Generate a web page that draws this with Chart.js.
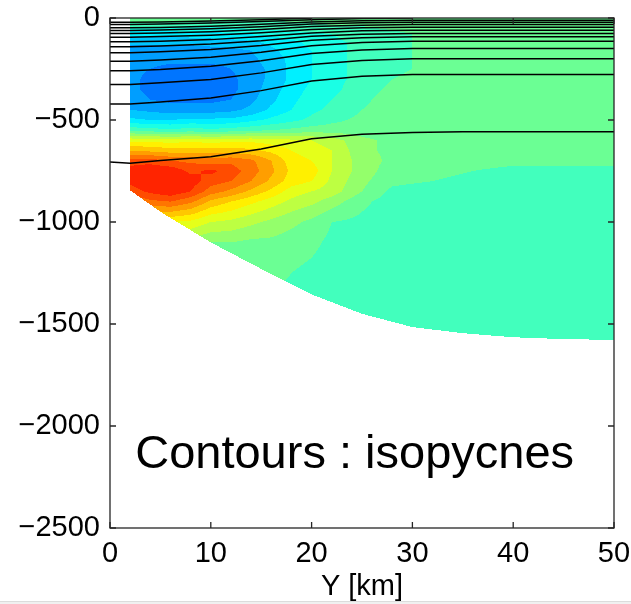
<!DOCTYPE html>
<html>
<head>
<meta charset="utf-8">
<script src="https://cdn.jsdelivr.net/npm/chart.js@4.4.1/dist/chart.umd.min.js"></script>
<style>
  html, body { margin: 0; padding: 0; background: #fff; }
  #wrap { position: relative; width: 631px; height: 604px; }
  #edge { position: absolute; left: 0; top: 601px; width: 631px; height: 3px; background: #f0f0f0; border-top: 1px solid #dcdcdc; box-sizing: border-box; }
</style>
</head>
<body>
<div id="wrap">
  <canvas id="section" width="631" height="604"></canvas>
  <div id="edge"></div>
</div>
<script>
// === Axes ===
const xTicks = [0, 10, 20, 30, 40, 50];
const yTicks = [0, -500, -1000, -1500, -2000, -2500];

// === Gridded field (jet colormap units, 0..1) ===
const xCols = [2, 4, 6, 8, 10, 12, 14, 16, 18, 20, 22, 25, 28, 32, 40, 50];
const depthRows = [0, 40, 80, 120, 160, 200, 250, 300, 350, 400, 450, 500, 550,
  600, 650, 700, 750, 800, 850, 900, 1000, 1100, 1250, 1400, 1600];
const fieldGrid = [
  [0.50,0.50,0.49,0.48,0.48,0.48,0.47,0.47,0.47,0.47,0.47,0.47,0.47,0.48,0.48,0.48], // 0
  [0.43,0.43,0.43,0.43,0.43,0.43,0.44,0.44,0.45,0.45,0.46,0.46,0.47,0.48,0.48,0.48], // 40
  [0.35,0.35,0.35,0.36,0.36,0.37,0.38,0.39,0.40,0.41,0.42,0.44,0.45,0.47,0.48,0.48], // 80
  [0.31,0.31,0.31,0.31,0.32,0.32,0.33,0.35,0.37,0.39,0.41,0.43,0.45,0.47,0.48,0.48], // 120
  [0.28,0.28,0.28,0.28,0.28,0.29,0.30,0.33,0.36,0.38,0.41,0.43,0.45,0.47,0.48,0.48], // 160
  [0.27,0.27,0.27,0.27,0.27,0.27,0.29,0.32,0.35,0.38,0.41,0.43,0.45,0.47,0.48,0.48], // 200
  [0.27,0.26,0.25,0.25,0.25,0.26,0.28,0.31,0.35,0.38,0.41,0.43,0.45,0.47,0.48,0.48], // 250
  [0.27,0.25,0.24,0.24,0.24,0.25,0.28,0.31,0.35,0.38,0.41,0.43,0.46,0.48,0.48,0.48], // 300
  [0.27,0.25,0.24,0.24,0.24,0.25,0.28,0.32,0.36,0.39,0.41,0.44,0.47,0.48,0.48,0.48], // 350
  [0.28,0.26,0.25,0.25,0.25,0.26,0.29,0.33,0.37,0.40,0.42,0.45,0.48,0.48,0.48,0.48], // 400
  [0.30,0.29,0.28,0.28,0.28,0.29,0.31,0.35,0.38,0.41,0.43,0.46,0.48,0.48,0.48,0.48], // 450
  [0.35,0.34,0.34,0.35,0.35,0.35,0.37,0.39,0.41,0.43,0.45,0.47,0.48,0.48,0.48,0.48], // 500
  [0.45,0.44,0.43,0.44,0.43,0.44,0.45,0.46,0.47,0.48,0.48,0.48,0.48,0.48,0.48,0.48], // 550
  [0.61,0.61,0.60,0.61,0.60,0.61,0.61,0.60,0.59,0.58,0.56,0.51,0.49,0.48,0.48,0.48], // 600
  [0.70,0.69,0.68,0.68,0.68,0.68,0.67,0.65,0.62,0.60,0.58,0.51,0.49,0.48,0.48,0.48], // 650
  [0.80,0.80,0.78,0.77,0.76,0.77,0.75,0.70,0.64,0.62,0.58,0.52,0.49,0.48,0.47,0.47], // 700
  [0.84,0.86,0.85,0.81,0.83,0.80,0.76,0.71,0.65,0.64,0.58,0.52,0.48,0.47,0.45,0.45], // 750
  [0.83,0.86,0.86,0.84,0.80,0.78,0.74,0.69,0.64,0.62,0.57,0.51,0.47,0.46,0.44,0.44], // 800
  [0.80,0.83,0.85,0.82,0.76,0.73,0.69,0.65,0.60,0.58,0.56,0.50,0.45,0.44,0.44,0.44], // 850
  [0.74,0.77,0.78,0.75,0.69,0.66,0.63,0.60,0.57,0.55,0.52,0.47,0.44,0.44,0.44,0.44], // 900
  [0.60,0.62,0.62,0.61,0.58,0.57,0.55,0.53,0.51,0.49,0.46,0.45,0.44,0.44,0.44,0.44], // 1000
  [0.52,0.53,0.53,0.52,0.50,0.50,0.49,0.49,0.48,0.47,0.45,0.44,0.44,0.44,0.44,0.44], // 1100
  [0.48,0.48,0.48,0.48,0.48,0.48,0.47,0.47,0.46,0.45,0.44,0.44,0.44,0.44,0.44,0.44], // 1250
  [0.46,0.46,0.46,0.46,0.46,0.46,0.45,0.45,0.45,0.44,0.44,0.44,0.44,0.44,0.44,0.44], // 1400
  [0.44,0.44,0.44,0.44,0.44,0.44,0.44,0.44,0.44,0.44,0.44,0.44,0.44,0.44,0.44,0.44]  // 1600
];

// === Bottom topography (depth in m) ===
const bathyX = [2, 5, 10, 15, 20, 25, 30, 35, 40, 45, 50];
const bathyDepth = [845, 950, 1100, 1230, 1355, 1450, 1515, 1545, 1565, 1574, 1578];

// === Isopycnals (depth in m at isoX) ===
const isoX = [0, 2, 5, 10, 15, 20, 25, 30, 35, 40, 45, 50];
const isoDepths = [
  [21, 21, 20, 15, 8, 0],
  [32, 32, 30, 25, 17, 8, 3, 0],
  [48, 48, 46, 41, 31, 19, 13, 11, 11, 11, 11, 11],
  [61, 61, 59, 53, 43, 30, 23, 21, 21, 21, 21, 21],
  [76, 76, 73, 67, 56, 42, 35, 32, 32, 32, 32, 32],
  [94, 94, 91, 84, 72, 56, 48, 45, 45, 45, 45, 45],
  [117, 117, 114, 106, 91, 73, 63, 60, 60, 60, 60, 60],
  [141, 141, 137, 128, 112, 90, 80, 76, 76, 76, 76, 76],
  [170, 170, 165, 154, 135, 109, 97, 92, 92, 92, 92, 92],
  [212, 212, 206, 192, 168, 136, 120, 114, 114, 114, 114, 114],
  [258, 258, 252, 236, 209, 174, 157, 150, 150, 150, 150, 150],
  [326, 326, 318, 301, 269, 228, 208, 200, 200, 200, 200, 200],
  [421, 421, 412, 392, 356, 309, 286, 277, 277, 277, 277, 277],
  [706, 712, 698, 680, 642, 592, 570, 561, 558, 558, 558, 558]
];

const noteText = "Contours : isopycnes";
const FONT = '"Liberation Sans", Arial, Helvetica, sans-serif';

function fmtTick(v) {
  return v < 0 ? "\u2212" + Math.abs(v) : String(v);
}

function locate(arr, v) {
  let i = 0;
  while (i < arr.length - 2 && v > arr[i + 1]) i++;
  const t = Math.max(0, Math.min(1, (v - arr[i]) / (arr[i + 1] - arr[i])));
  return [i, t];
}

function bottomAt(km) {
  const [i, t] = locate(bathyX, km);
  return bathyDepth[i] + t * (bathyDepth[i + 1] - bathyDepth[i]);
}

function sample(km, depth) {
  const [i, tx] = locate(xCols, km);
  const [j, ty] = locate(depthRows, depth);
  const a = fieldGrid[j][i], b = fieldGrid[j][i + 1];
  const c = fieldGrid[j + 1][i], d = fieldGrid[j + 1][i + 1];
  return (a * (1 - tx) + b * tx) * (1 - ty) + (c * (1 - tx) + d * tx) * ty;
}

// MATLAB jet, quantized like contourf levels
function jetLevel(v) {
  const lvl = Math.floor((v - 0.02) / 0.04);
  const m = 0.04 * (lvl + 1);
  const ch = (t) => Math.round(255 * Math.max(0, Math.min(1, 1.5 - Math.abs(t))));
  return [ch(4 * m - 3), ch(4 * m - 2), ch(4 * m - 1)];
}

const fieldPlugin = {
  id: "field",
  beforeDatasetsDraw(chart) {
    const { ctx, chartArea: a, scales: { x, y } } = chart;
    const w = Math.round(a.right - a.left), h = Math.round(a.bottom - a.top);
    const off = document.createElement("canvas");
    off.width = w;
    off.height = h;
    const octx = off.getContext("2d");
    const img = octx.createImageData(w, h);
    for (let j = 0; j < h; j++) {
      const depth = -y.getValueForPixel(a.top + j + 0.5);
      for (let i = 0; i < w; i++) {
        const km = x.getValueForPixel(a.left + i + 0.5);
        if (km < xCols[0] || depth > bottomAt(km)) continue;
        const rgb = jetLevel(sample(km, depth));
        const k = 4 * (j * w + i);
        img.data[k] = rgb[0];
        img.data[k + 1] = rgb[1];
        img.data[k + 2] = rgb[2];
        img.data[k + 3] = 255;
      }
    }
    octx.putImageData(img, 0, 0);
    ctx.drawImage(off, a.left, a.top);
  },
};

const boxPlugin = {
  id: "box",
  afterDraw(chart) {
    const { ctx, chartArea: a, scales: { x, y } } = chart;
    ctx.save();
    ctx.strokeStyle = "#262626";
    ctx.lineWidth = 1.3;
    ctx.strokeRect(a.left, a.top, a.right - a.left, a.bottom - a.top);
    ctx.beginPath();
    xTicks.forEach((v) => {
      const px = x.getPixelForValue(v);
      ctx.moveTo(px, a.bottom);
      ctx.lineTo(px, a.bottom - 6);
      ctx.moveTo(px, a.top);
      ctx.lineTo(px, a.top + 6);
    });
    yTicks.forEach((v) => {
      const py = y.getPixelForValue(v);
      ctx.moveTo(a.left, py);
      ctx.lineTo(a.left + 6, py);
      ctx.moveTo(a.right, py);
      ctx.lineTo(a.right - 6, py);
    });
    ctx.stroke();
    // annotation
    ctx.fillStyle = "#000";
    ctx.font = "47px " + FONT;
    ctx.textBaseline = "alphabetic";
    ctx.fillText(noteText, x.getPixelForValue(2.5), y.getPixelForValue(-2205));
    ctx.restore();
  },
};

new Chart(document.getElementById("section"), {
  type: "scatter",
  data: {
    datasets: isoDepths.map((depths) => ({
      data: depths.map((d, i) => ({ x: isoX[i], y: -d })),
      showLine: true,
      borderColor: "#000",
      borderWidth: 1.5,
      pointRadius: 0,
      tension: 0,
    })),
  },
  options: {
    responsive: false,
    animation: false,
    events: [],
    layout: { padding: { left: 0, top: 18, right: 17, bottom: 0 } },
    plugins: { legend: { display: false }, tooltip: { enabled: false } },
    scales: {
      x: {
        type: "linear",
        min: 0,
        max: 50,
        afterBuildTicks: (s) => { s.ticks = xTicks.map((v) => ({ value: v })); },
        afterFit: (s) => { s.height = 76; s.paddingLeft = 0; s.paddingRight = 0; },
        grid: { display: false, drawTicks: false },
        border: { display: false },
        ticks: { color: "#000", font: { family: FONT, size: 29 }, padding: 9, autoSkip: false, maxRotation: 0 },
        title: { display: true, text: "Y [km]", color: "#000", font: { family: FONT, size: 29 }, padding: 0 },
      },
      y: {
        type: "linear",
        min: -2500,
        max: 0,
        afterBuildTicks: (s) => { s.ticks = yTicks.map((v) => ({ value: v })); },
        afterFit: (s) => { s.width = 110; s.paddingTop = 0; s.paddingBottom = 0; },
        grid: { display: false, drawTicks: false },
        border: { display: false },
        ticks: { color: "#000", font: { family: FONT, size: 29 }, padding: 10, autoSkip: false, callback: fmtTick },
      },
    },
  },
  plugins: [fieldPlugin, boxPlugin],
});
</script>
</body>
</html>
